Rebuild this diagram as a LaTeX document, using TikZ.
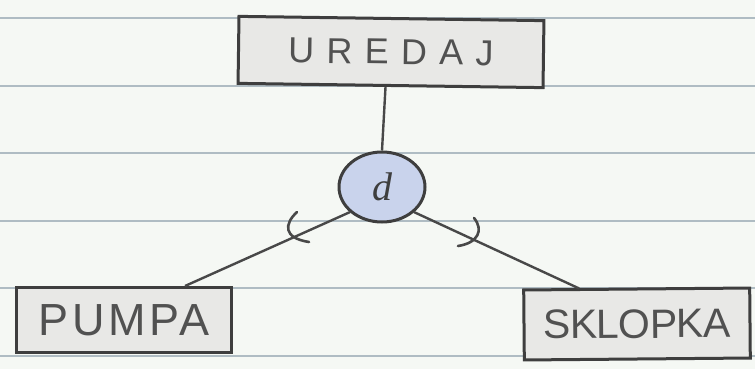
\documentclass[tikz,border=0pt]{standalone}
\usepackage{fontspec}
\setmainfont{Liberation Sans}
\newfontfamily\cursivefont{Liberation Serif}
\usetikzlibrary{shapes.geometric,calc}
\definecolor{paper}{HTML}{F5F8F4}
\definecolor{ruled}{HTML}{AFBCC3}
\definecolor{pencil}{HTML}{3E3E3E}
\definecolor{boxfill}{HTML}{E8E8E6}
\definecolor{discfill}{HTML}{C9D3EC}
\tikzset{
  entitybox/.style={draw=pencil, line width=3pt, fill=boxfill, rectangle,
    inner sep=0pt, text=pencil!90},
  disjoint/.style={draw=pencil, line width=3pt, fill=discfill, ellipse,
    inner sep=0pt, minimum width=86pt, minimum height=70pt, text=pencil},
  link/.style={draw=pencil!95, line width=2.4pt},
  subsetmark/.style={draw=pencil!95, line width=2.6pt, line cap=round},
  rule/.style={draw=ruled, line width=1.8pt}
}
\begin{document}
\begin{tikzpicture}[x=1pt,y=-1pt]
  % sheet of ruled paper
  \fill[paper] (0,0) rectangle (755,369);
  \useasboundingbox (0,0) rectangle (755,369);
  \foreach \yy in {18,86,153,221,288,356}
    \draw[rule] (0,\yy) -- (755,\yy);

  % supertype, disjointness circle and subtypes
  \node[entitybox, minimum width=305pt, minimum height=67pt, rotate=-0.8]
    (uredaj) at (391,52)
    {\fontspec{Liberation Sans}[LetterSpace=34]\fontsize{36}{36}\selectfont UREDAJ};
  \node[disjoint] (d) at (382,187)
    {\cursivefont\itshape\fontsize{40}{40}\selectfont d};
  \node[entitybox, minimum width=215pt, minimum height=65pt]
    (pumpa) at (124,320)
    {\fontspec{Liberation Sans}[LetterSpace=8]\fontsize{45}{45}\selectfont PUMPA};
  \node[entitybox, minimum width=226pt, minimum height=70pt, rotate=0.5]
    (sklopka) at (637,324)
    {\fontspec{Liberation Sans}[LetterSpace=-2]\fontsize{41}{41}\selectfont SKLOPKA};

  % connectors
  \draw[link] (uredaj.south) ++(-5,0) coordinate (ut) -- (d.north);
  \coordinate (pt) at ($(pumpa.north east)+(-48,0)$);
  \coordinate (st) at ($(sklopka.north west)+(57,0)$);
  \draw[link] (d.218) -- (pt);
  \draw[link] (d.322) -- (st);

  % subset marks on the connectors
  \draw[subsetmark] (297,212) .. controls (284,224) and (283,238) .. (309,242);
  \draw[subsetmark] (474,218) .. controls (484,230) and (478,243) .. (458,246);
\end{tikzpicture}
\end{document}
